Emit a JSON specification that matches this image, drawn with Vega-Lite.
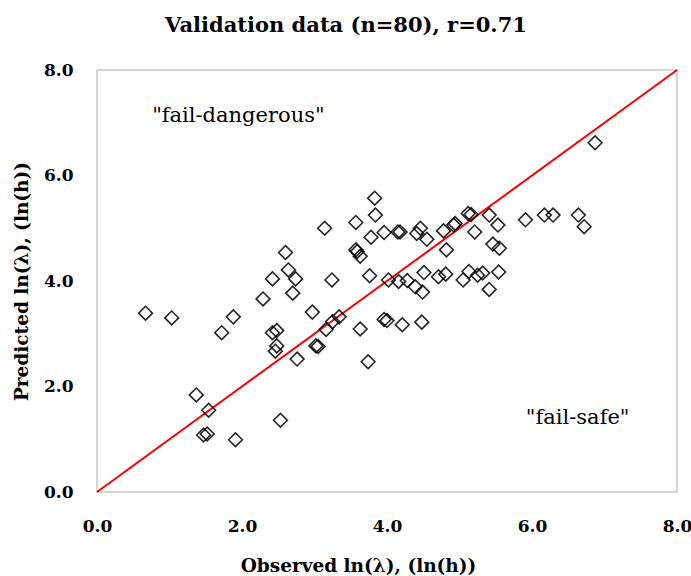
{
  "$schema": "https://vega.github.io/schema/vega-lite/v6.json",
  "autosize": {"type": "none"},
  "width": 580,
  "height": 422,
  "padding": {"left": 97, "top": 70, "right": 14, "bottom": 84},
  "background": "white",
  "title": {
    "text": "Validation  data (n=80), r=0.71",
    "font": "DejaVu Serif",
    "fontSize": 21,
    "fontWeight": "bold",
    "color": "#000000",
    "anchor": "middle",
    "offset": 25,
    "dx": -41
  },
  "config": {
    "view": {"stroke": "#c8c8c8", "strokeWidth": 1.5},
    "axis": {
      "grid": false,
      "ticks": false,
      "domain": false,
      "labelFlush": false,
      "labelFont": "DejaVu Serif",
      "labelFontSize": 17,
      "labelFontWeight": "bold",
      "labelColor": "#000000",
      "titleFont": "DejaVu Serif",
      "titleFontSize": 18.5,
      "titleFontWeight": "bold",
      "titleColor": "#000000"
    }
  },
  "datasets": {
    "pts": [
      {"obs": 0.67, "pred": 3.39}, {"obs": 1.03, "pred": 3.30}, {"obs": 1.88, "pred": 3.32}, {"obs": 1.72, "pred": 3.02},
      {"obs": 2.29, "pred": 3.66}, {"obs": 2.70, "pred": 3.77}, {"obs": 2.42, "pred": 4.04}, {"obs": 2.74, "pred": 4.04},
      {"obs": 2.64, "pred": 4.21}, {"obs": 2.60, "pred": 4.54}, {"obs": 2.97, "pred": 3.41}, {"obs": 2.42, "pred": 3.02},
      {"obs": 2.48, "pred": 3.06}, {"obs": 2.48, "pred": 2.77}, {"obs": 2.46, "pred": 2.67}, {"obs": 2.76, "pred": 2.52},
      {"obs": 3.16, "pred": 3.08}, {"obs": 3.25, "pred": 3.23}, {"obs": 3.34, "pred": 3.32}, {"obs": 3.02, "pred": 2.77},
      {"obs": 3.05, "pred": 2.76}, {"obs": 3.63, "pred": 3.09}, {"obs": 3.96, "pred": 3.27}, {"obs": 4.00, "pred": 3.25},
      {"obs": 3.74, "pred": 2.47}, {"obs": 1.37, "pred": 1.84}, {"obs": 1.54, "pred": 1.55}, {"obs": 1.47, "pred": 1.08},
      {"obs": 1.52, "pred": 1.10}, {"obs": 1.91, "pred": 0.99}, {"obs": 2.53, "pred": 1.36}, {"obs": 3.83, "pred": 5.57},
      {"obs": 3.84, "pred": 5.25}, {"obs": 3.14, "pred": 5.00}, {"obs": 3.57, "pred": 5.11}, {"obs": 3.78, "pred": 4.83},
      {"obs": 3.96, "pred": 4.92}, {"obs": 4.15, "pred": 4.93}, {"obs": 4.41, "pred": 4.90}, {"obs": 4.46, "pred": 5.00},
      {"obs": 4.55, "pred": 4.79}, {"obs": 4.78, "pred": 4.95}, {"obs": 4.92, "pred": 5.06}, {"obs": 4.94, "pred": 5.09},
      {"obs": 5.12, "pred": 5.28}, {"obs": 4.82, "pred": 4.59}, {"obs": 3.57, "pred": 4.59}, {"obs": 3.63, "pred": 4.47},
      {"obs": 3.59, "pred": 4.56}, {"obs": 3.24, "pred": 4.02}, {"obs": 3.76, "pred": 4.10}, {"obs": 4.02, "pred": 4.02},
      {"obs": 4.16, "pred": 3.99}, {"obs": 4.28, "pred": 4.01}, {"obs": 4.39, "pred": 3.89}, {"obs": 4.49, "pred": 3.79},
      {"obs": 4.51, "pred": 4.16}, {"obs": 4.71, "pred": 4.08}, {"obs": 4.81, "pred": 4.13}, {"obs": 5.05, "pred": 4.02},
      {"obs": 4.21, "pred": 3.17}, {"obs": 4.48, "pred": 3.22}, {"obs": 6.87, "pred": 6.62}, {"obs": 5.16, "pred": 5.26},
      {"obs": 5.41, "pred": 5.25}, {"obs": 5.53, "pred": 5.06}, {"obs": 5.21, "pred": 4.93}, {"obs": 5.91, "pred": 5.16},
      {"obs": 6.17, "pred": 5.25}, {"obs": 6.29, "pred": 5.25}, {"obs": 6.64, "pred": 5.25}, {"obs": 6.72, "pred": 5.03},
      {"obs": 5.46, "pred": 4.70}, {"obs": 5.55, "pred": 4.62}, {"obs": 5.13, "pred": 4.18}, {"obs": 5.25, "pred": 4.11},
      {"obs": 5.32, "pred": 4.15}, {"obs": 5.54, "pred": 4.17}, {"obs": 5.41, "pred": 3.84}, {"obs": 4.18, "pred": 4.93}
    ],
    "line": [{"obs": 0, "pred": 0}, {"obs": 8, "pred": 8}],
    "notes": [
      {"obs": 1.95, "pred": 7.13, "label": "\"fail-dangerous\""},
      {"obs": 6.63, "pred": 1.40, "label": "\"fail-safe\""}
    ]
  },
  "encoding": {
    "x": {
      "field": "obs", "type": "quantitative",
      "scale": {"domain": [0, 8], "nice": false},
      "axis": {"values": [0, 2, 4, 6, 8], "format": ".1f", "labelPadding": 26, "title": "Observed ln(λ), (ln(h))", "titlePadding": 22, "titleX": 261, "titleAlign": "center", "titleAnchor": null}
    },
    "y": {
      "field": "pred", "type": "quantitative",
      "scale": {"domain": [0, 8], "nice": false},
      "axis": {"values": [0, 2, 4, 6, 8], "format": ".1f", "labelPadding": 24, "title": "Predicted ln(λ), (ln(h))", "titlePadding": 12}
    }
  },
  "layer": [
    {
      "data": {"name": "line"},
      "mark": {"type": "line", "color": "#ff0000", "strokeWidth": 2}
    },
    {
      "data": {"name": "pts"},
      "mark": {"type": "point", "shape": "diamond", "size": 190, "filled": false, "stroke": "#000000", "strokeWidth": 1.6, "opacity": 0.85}
    },
    {
      "data": {"name": "notes"},
      "mark": {"type": "text", "font": "DejaVu Serif", "fontSize": 21, "color": "#000000"},
      "encoding": {"text": {"field": "label"}}
    }
  ]
}
